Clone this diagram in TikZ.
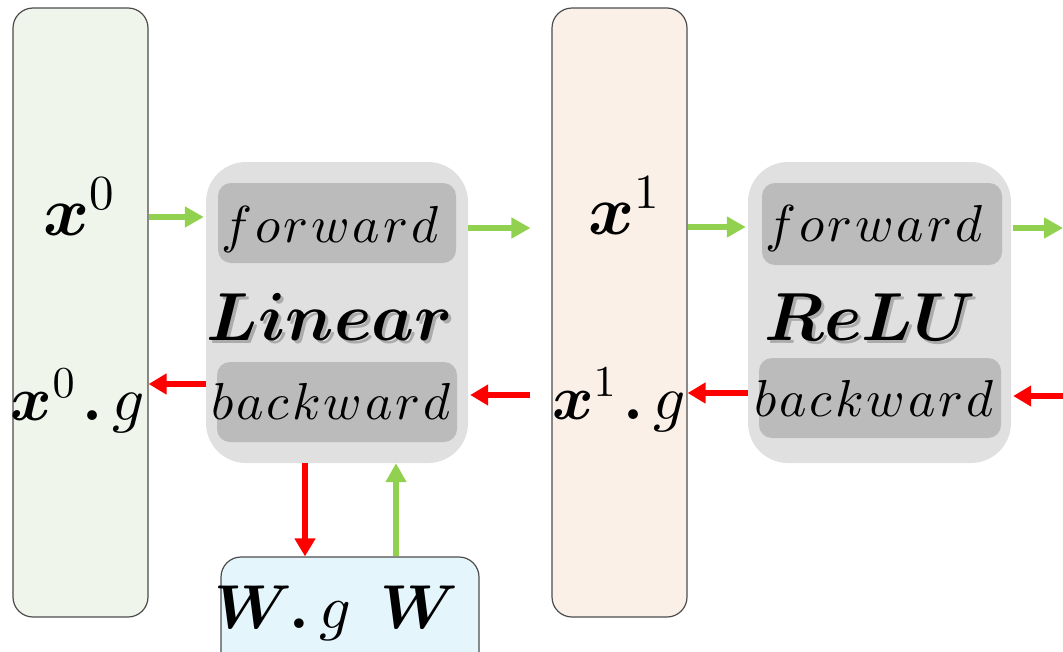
\documentclass[tikz,border=0pt]{standalone}
\DeclareFontShape{OML}{cmm}{m}{it}{<->cmmi10}{}
\DeclareFontShape{OML}{cmm}{b}{it}{<->cmmib10}{}
\DeclareFontShape{OT1}{cmr}{m}{n}{<->cmr10}{}
\DeclareFontShape{OT1}{cmr}{bx}{n}{<->cmbx10}{}
\DeclareFontShape{OMS}{cmsy}{m}{n}{<->cmsy10}{}
\DeclareFontShape{OMS}{cmsy}{b}{n}{<->cmbsy10}{}
\DeclareFontShape{OMX}{cmex}{m}{n}{<->cmex10}{}
\usepackage{amsmath,bm}
\usetikzlibrary{arrows.meta}
\definecolor{gbox}{RGB}{239,245,235}
\definecolor{pbox}{RGB}{251,240,232}
\definecolor{bbox}{RGB}{229,245,252}
\definecolor{outergray}{RGB}{224,224,224}
\definecolor{innergray}{RGB}{187,187,187}
\definecolor{agreen}{RGB}{146,208,80}
\definecolor{ared}{RGB}{255,0,0}
\newcommand\xlabelfont{\fontsize{70}{76}\selectfont}
\newcommand\xglabelfont{\fontsize{63}{70}\selectfont}
\newcommand\wlabelfont{\fontsize{62}{70}\selectfont}
\newcommand\opfont{\fontsize{52}{58}\selectfont}
\newcommand\layerfont{\fontsize{68}{76}\selectfont}
\newcommand\lsp{\mkern1mu}
\begin{document}
\begin{tikzpicture}[x=1pt,y=-1pt,
  col/.style={draw=black!70, line width=1.2pt, rounded corners=20pt, inner sep=0pt},
  outerbox/.style={fill=outergray, rounded corners=40pt, inner sep=0pt},
  innerbox/.style={fill=innergray, rounded corners=13pt, inner sep=0pt},
  xlab/.style={anchor=base, font=\xlabelfont, inner sep=0pt},
  xglab/.style={anchor=base, font=\xglabelfont, inner sep=0pt},
  wlab/.style={anchor=base, font=\wlabelfont, inner sep=0pt},
  oplab/.style={anchor=base, font=\opfont, inner sep=0pt},
  laylab/.style={anchor=base, font=\layerfont, inner sep=0pt},
  shadowlab/.style={anchor=base, font=\layerfont, inner sep=0pt, text=black!50, opacity=0.55},
  fwd/.style={draw=agreen, line width=5.5pt, -{Triangle[length=19pt,width=20pt]}},
  bwd/.style={draw=ared, line width=5.5pt, -{Triangle[length=18pt,width=20pt]}}]
\useasboundingbox (0,0) rectangle (1063,651);
\clip (0,0) rectangle (1063,651);

% columns
\node[col, fill=gbox, minimum width=135pt, minimum height=609pt] (x0box) at (80.5,312.5) {};
\node[col, fill=pbox, minimum width=135pt, minimum height=609pt] (x1box) at (619.5,312.5) {};
\node[col, fill=bbox, minimum width=258pt, minimum height=130pt] (wbox) at (350,622) {};

% layers
\node[outerbox, minimum width=262pt, minimum height=301pt] (lin) at (337,312.5) {};
\node[innerbox, minimum width=238pt, minimum height=80pt] (linf) at (337,223) {};
\node[innerbox, minimum width=240pt, minimum height=80pt] (linb) at (337,402) {};
\node[outerbox, minimum width=263pt, minimum height=301pt] (relu) at (879.5,312.5) {};
\node[innerbox, minimum width=240pt, minimum height=82pt] (reluf) at (882,224) {};
\node[innerbox, minimum width=242pt, minimum height=80pt] (relub) at (880,398) {};

% labels
\node[xlab] (x0) at (79,235) {$\bm{x}^{0}$};
\node[xglab] (x0g) at (78,420) {$\bm{x}^{0}\mkern2mu\bm{.}\mkern3mu g$};
\node[xlab] (x1) at (624,234) {$\bm{x}^{1}$};
\node[xglab] (x1g) at (619,419) {$\bm{x}^{1}\mkern2mu\bm{.}\mkern3mu g$};
\node[wlab] (wg) at (283,628) {$\bm{W}\mkern-1mu\bm{.}\mkern3mu g$};
\node[wlab] (w) at (419,628) {$\bm{W}$};

\node[oplab] (linft) at (330,242) {$f\lsp o\lsp r\lsp w\lsp a\lsp r\lsp d$};
\node[oplab] (linbt) at (331,419) {$b\lsp a\lsp c\lsp k\lsp w\lsp a\lsp r\lsp d$};
\node[oplab] (reluft) at (874,241) {$f\lsp o\lsp r\lsp w\lsp a\lsp r\lsp d$};
\node[oplab] (relubt) at (874,416) {$b\lsp a\lsp c\lsp k\lsp w\lsp a\lsp r\lsp d$};

\node[shadowlab] (linsh) at (333,343) {$\bm{Linear}$};
\node[laylab] (lint) at (330,340) {$\bm{Linear}$};
\node[shadowlab] (relush) at (873,343) {$\bm{ReLU}$};
\node[laylab] (relut) at (870,340) {$\bm{ReLU}$};

% free ends
\coordinate (outf) at (1063,228);
\coordinate (inb) at (1063,396);

% forward arrows
\draw[fwd, shorten >=2pt] (x0box.east |- 0,217) -- (lin.west |- 0,217);
\draw[fwd, shorten >=21pt] (lin.east |- 0,228) -- (x1box.west |- 0,228);
\draw[fwd, shorten >=2pt] (x1box.east |- 0,227) -- (relu.west |- 0,227);
\draw[fwd, shorten <=2pt] (relu.east |- outf) -- (outf);
\draw[fwd] (wbox.north -| 396,0) -- (lin.south -| 396,0);

% backward arrows
\draw[bwd] (lin.west |- 0,384) -- (x0box.east |- 0,384);
\draw[bwd, shorten <=21pt, shorten >=2pt] (x1box.west |- 0,395) -- (lin.east |- 0,395);
\draw[bwd] (relu.west |- 0,393) -- (x1box.east |- 0,393);
\draw[bwd, shorten >=2pt] (inb) -- (relu.east |- inb);
\draw[bwd] (lin.south -| 305,0) -- (wbox.north -| 305,0);
\end{tikzpicture}
\end{document}
